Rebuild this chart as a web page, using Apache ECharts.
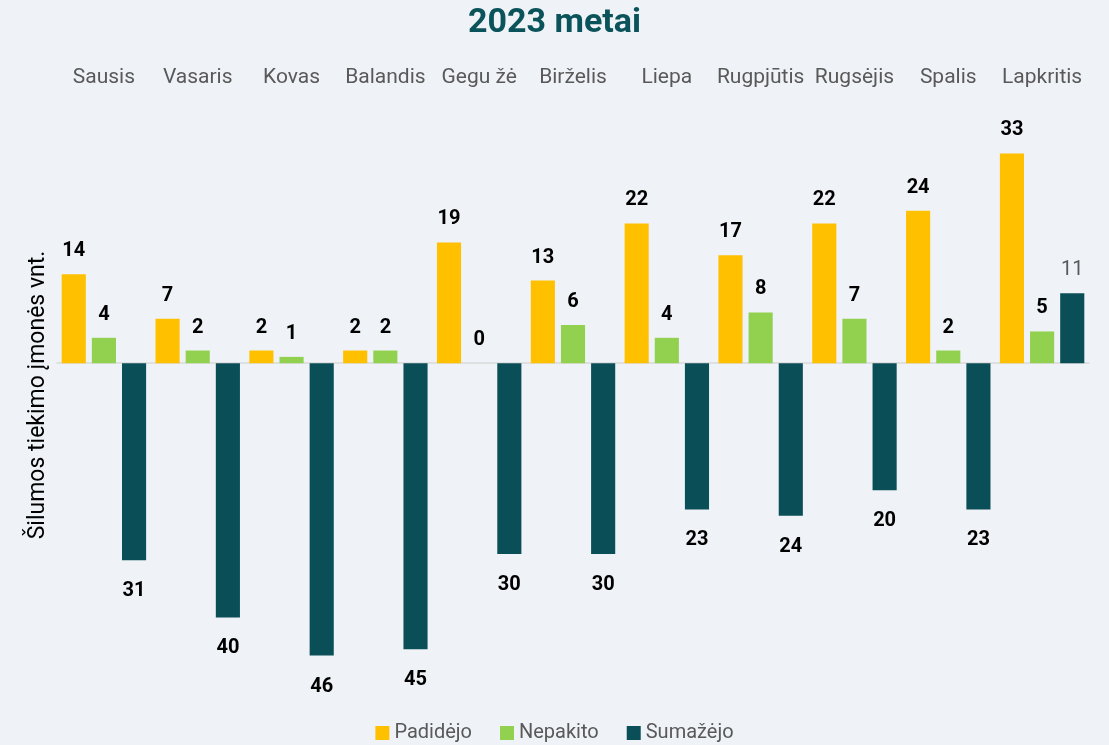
<!DOCTYPE html>
<html><head><meta charset="utf-8">
<script src="https://cdn.jsdelivr.net/npm/echarts@6/dist/echarts.min.js"></script>
<style>html,body{margin:0;padding:0;background:#EFF3F7}#c{width:1109px;height:745px}</style>
</head><body><div id="c"></div>
<script>
const categories = ['Sausis','Vasaris','Kovas','Balandis','Gegu žė','Birželis','Liepa','Rugpjūtis','Rugsėjis','Spalis','Lapkritis'];
const padidejo = [14,7,2,2,19,13,22,17,22,24,33];
const nepakito = [4,2,1,2,0,6,4,8,7,2,5];
const sumazejo = [-31,-40,-46,-45,-30,-30,-23,-24,-20,-23,11];

const FONT = 'Roboto';
function items(arr, special){
  return arr.map(v => {
    const lab = { position: v < 0 ? 'bottom' : 'top', distance: v < 0 ? 21 : 13 };
    if (special && v > 0) { lab.fontWeight = 'normal'; lab.color = '#595959'; }
    return { value: v, label: lab };
  });
}
const labelBase = { show: true, fontFamily: FONT, fontSize: 20, fontWeight: 'bold', color: '#000',
  formatter: p => Math.abs(p.value) };

const chart = echarts.init(document.getElementById('c'));
chart.setOption({
  backgroundColor: '#EFF3F7',
  title: { text: '2023 metai', left: 'center', top: 1,
    textStyle: { fontFamily: FONT, fontSize: 34, fontWeight: 'bold', color: '#0B535A' } },
  legend: { top: 718, left: 'center', itemWidth: 14, itemHeight: 14, itemGap: 28, icon: 'rect',
    textStyle: { fontFamily: FONT, fontSize: 20, color: '#595959' } },
  grid: { left: 57, right: 20, top: 109, bottom: 64 },
  xAxis: [
    { type: 'category', data: categories, axisLine: { onZero: true, lineStyle: { color: '#D9D9D9', width: 1.5 } },
      axisTick: { show: false }, axisLabel: { show: false } },
    { type: 'category', data: categories, position: 'top', axisLine: { show: false }, axisTick: { show: false },
      axisLabel: { margin: 21, fontFamily: FONT, fontSize: 21, color: '#595959', interval: 0 } }
  ],
  yAxis: { type: 'value', min: -50, max: 40, axisLabel: { show: false }, splitLine: { show: false },
    axisLine: { show: false }, axisTick: { show: false },
    name: 'Šilumos tiekimo įmonės vnt.', nameLocation: 'middle', nameGap: 7,
    nameTextStyle: { fontFamily: FONT, fontSize: 23, color: '#000' } },
  series: [
    { name: 'Padidėjo', type: 'bar', data: items(padidejo), itemStyle: { color: '#FFC000' },
      barGap: '25%', barCategoryGap: '10%', label: labelBase },
    { name: 'Nepakito', type: 'bar', data: items(nepakito), itemStyle: { color: '#92D050' }, label: labelBase },
    { name: 'Sumažėjo', type: 'bar', data: items(sumazejo, true), itemStyle: { color: '#0A4F57' }, label: labelBase }
  ]
});
</script></body></html>
